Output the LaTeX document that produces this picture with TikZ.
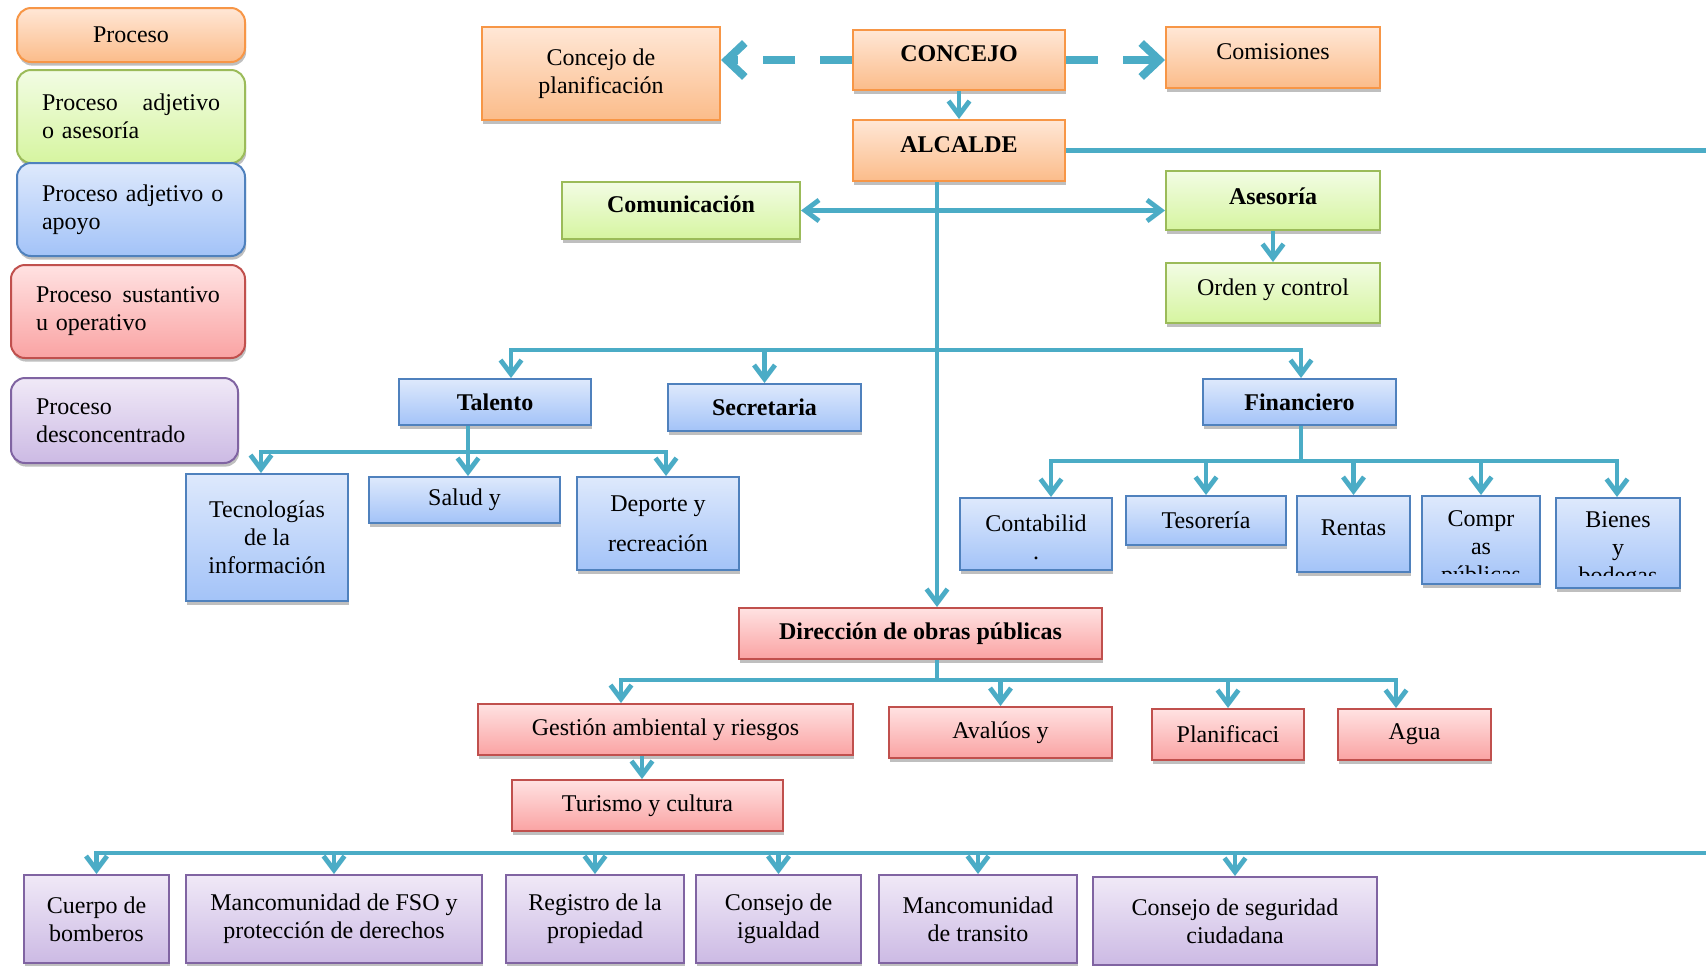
\documentclass[tikz,border=0pt]{standalone}
\usepackage{fontspec}
\setmainfont{Liberation Serif}
\usetikzlibrary{arrows.meta,shadows,calc}
\definecolor{lineC}{RGB}{75,172,198}
\definecolor{orD}{RGB}{247,150,70}\definecolor{orT}{RGB}{255,231,214}\definecolor{orB}{RGB}{251,188,138}
\definecolor{grD}{RGB}{155,187,89}\definecolor{grT}{RGB}{242,252,228}\definecolor{grB}{RGB}{214,245,160}
\definecolor{blD}{RGB}{79,129,189}\definecolor{blT}{RGB}{222,233,252}\definecolor{blB}{RGB}{163,195,248}
\definecolor{rdD}{RGB}{192,80,77}\definecolor{rdT}{RGB}{255,226,226}\definecolor{rdB}{RGB}{250,163,163}
\definecolor{puD}{RGB}{128,100,162}\definecolor{puT}{RGB}{240,233,247}\definecolor{puB}{RGB}{204,186,228}
\tikzset{
  fnt/.style={font=\fontsize{12}{14}\selectfont},
  bfnt/.style={font=\fontsize{12}{14}\selectfont\bfseries},
  base/.style={fnt, draw, line width=1pt, inner sep=2pt, align=center,
    drop shadow={shadow xshift=0.6pt, shadow yshift=-1.8pt, opacity=0.25, fill=black}},
  orbox/.style={base, draw=orD, top color=orT, bottom color=orB},
  grbox/.style={base, draw=grD, top color=grT, bottom color=grB},
  blbox/.style={base, draw=blD, top color=blT, bottom color=blB},
  rdbox/.style={base, draw=rdD, top color=rdT, bottom color=rdB},
  pubox/.style={base, draw=puD, top color=puT, bottom color=puB},
  leg/.style={rounded corners=7pt},
  up/.style={text depth=6pt},
  upsmall/.style={text depth=4pt},
  txt/.style={fnt, align=center, inner sep=0pt},
  >={Straight Barb[length=7pt,width=10.5pt]},
  conn/.style={draw=lineC, line width=2.4pt, line join=miter},
  arr/.style={conn, ->},
  dbl/.style={conn, <->},
  dsh/.style={draw=lineC, line width=4pt, dash pattern=on 16pt off 12.5pt,
    -{Straight Barb[length=9pt,width=17pt]}},
}
\begin{document}
\begin{tikzpicture}[x=0.5pt,y=-0.5pt]
\useasboundingbox (0,0) rectangle (1706,965);
\fill[white] (0,0) rectangle (1706,965);

% legend
\node[orbox, leg, minimum width=114pt, minimum height=27pt] (l1) at (131,35) {Proceso};
\node[grbox, leg, minimum width=114pt, minimum height=46.5pt, text width=89pt, align=left] (l2) at (131,116.5) {Proceso\hfill adjetivo\\o asesoría};
\node[blbox, leg, minimum width=114pt, minimum height=46.5pt, text width=89pt, align=left] (l3) at (131,209.5) {\mbox{Proceso adjetivo o}\\apoyo};
\node[rdbox, leg, minimum width=117pt, minimum height=46.5pt, text width=92pt, align=left] (l4) at (128,311.5) {Proceso\hfill sustantivo\\u operativo};
\node[pubox, leg, minimum width=113.5pt, minimum height=42.5pt, text width=88.5pt, align=left] (l5) at (124.5,420.5) {Proceso\\desconcentrado};

% top
\node[orbox, minimum width=119pt, minimum height=46.5pt] (plan) at (601,73.5) {Concejo de\\planificación};
\node[orbox, bfnt, up, minimum width=106pt, minimum height=30pt] (concejo) at (959,60) {CONCEJO};
\node[orbox, up, minimum width=107pt, minimum height=30.5pt] (comis) at (1273,57.5) {Comisiones};
\node[orbox, bfnt, up, minimum width=106pt, minimum height=30.5pt] (alcalde) at (959,150.5) {ALCALDE};
\node[grbox, bfnt, up, minimum width=119pt, minimum height=28.5pt] (comun) at (681,210.5) {Comunicación};
\node[grbox, bfnt, upsmall, minimum width=107pt, minimum height=29.5pt] (asesoria) at (1273,200.5) {Asesoría};
\node[grbox, up, minimum width=107pt, minimum height=30pt] (orden) at (1273,293) {Orden y control};

% blue level
\node[blbox, bfnt, minimum width=96pt, minimum height=23pt] (talento) at (495,402) {Talento};
\node[blbox, bfnt, minimum width=96.5pt, minimum height=23.5pt] (secretaria) at (764.5,407.5) {Secretaria};
\node[blbox, bfnt, minimum width=96.5pt, minimum height=23pt] (financiero) at (1299.5,402) {Financiero};
\node[blbox, minimum width=81pt, minimum height=63.5pt] (tec) at (267,537.5) {Tecnologías\\de la\\información};
\node[blbox, minimum width=95.5pt, minimum height=23pt] (salud) at (464.5,500) {Salud y};
\node[blbox, minimum width=81pt, minimum height=46.5pt] (deporte) at (658,523.5) {Deporte y\\[6pt]recreación};
\node[blbox, minimum width=76pt, minimum height=36pt] (cont) at (1036,534) {};
\node[txt, yshift=-1.5pt] (contT) at (cont) {Contabilid\\.};
\node[blbox, minimum width=80pt, minimum height=24.5pt] (teso) at (1206,520.5) {Tesorería};
\node[blbox, up, minimum width=56.5pt, minimum height=38pt] (rentas) at (1353.5,534) {Rentas};
\node[blbox, minimum width=59pt, minimum height=44pt] (compras) at (1481,540) {};
\begin{scope}
  \clip (compras.north west) rectangle ($(compras.north east)+(0,78)$);
  \node[txt, yshift=-4.5pt] (comprasT) at (compras) {Compr\\as\\públicas};
\end{scope}
\node[blbox, minimum width=62pt, minimum height=45pt] (bienes) at (1618,543) {};
\begin{scope}
  \clip (bienes.north west) rectangle ($(bienes.north east)+(0,78)$);
  \node[txt, yshift=-3.5pt] (bienesT) at (bienes) {Bienes\\y\\bodegas};
\end{scope}

% red level
\node[rdbox, bfnt, minimum width=181.5pt, minimum height=25.5pt] (direccion) at (920.5,633.5) {Dirección de obras públicas};
\node[rdbox, minimum width=187.5pt, minimum height=25.5pt] (gestion) at (665.5,729.5) {Gestión ambiental y riesgos};
\node[rdbox, minimum width=111.5pt, minimum height=25.5pt] (avaluos) at (1000.5,732.5) {Avalúos y};
\node[rdbox, minimum width=76pt, minimum height=25.5pt] (planif) at (1228,734.5) {Planificaci};
\node[rdbox, minimum width=76.5pt, minimum height=25.5pt] (agua) at (1414.5,734.5) {Agua};
\node[rdbox, minimum width=135.5pt, minimum height=25.5pt] (turismo) at (647.5,805.5) {Turismo y cultura};

% purple level
\node[pubox, minimum width=72.5pt, minimum height=44pt] (cuerpo) at (96.5,919) {Cuerpo de\\bomberos};
\node[pubox, minimum width=148pt, minimum height=44pt] (mfso) at (334,919) {Mancomunidad de FSO y\\protección de derechos};
\node[pubox, minimum width=89pt, minimum height=44pt] (registro) at (595,919) {Registro de la\\propiedad};
\node[pubox, minimum width=82.5pt, minimum height=44pt] (igualdad) at (778.5,919) {Consejo de\\igualdad};
\node[pubox, minimum width=99pt, minimum height=44pt] (transito) at (978,919) {Mancomunidad\\de transito};
\node[pubox, minimum width=142pt, minimum height=44pt] (seguridad) at (1235,921) {Consejo de seguridad\\ciudadana};

% connectors
\coordinate (tx) at (937,181);
\draw[arr] (tx |- alcalde.south) -- (tx |- direccion.north);
\draw[arr] (concejo.south) -- (alcalde.north);
\draw[dsh] (concejo.west) -- (concejo.west -| plan.east);
\draw[dsh] (concejo.east) -- (concejo.east -| comis.west);
\draw[dbl] (comun.east) -- (comun.east -| asesoria.west);
\draw[arr] (asesoria.south) -- (orden.north);

\coordinate (b1L) at (511,350); \coordinate (b1R) at (1301,350);
\draw[dbl] (b1L |- talento.north) -- (b1L) -- (b1R) -- (b1R |- financiero.north);
\draw[arr] (b1L -| secretaria.north) -- (secretaria.north);

\coordinate (b2) at (468,452); \coordinate (b2L) at (261,452); \coordinate (b2R) at (666,452);
\draw[conn] (talento.south -| b2) -- (b2);
\draw[dbl] (b2L |- tec.north) -- (b2L) -- (b2R) -- (b2R |- deporte.north);
\draw[arr] (b2) -- (b2 |- salud.north);

\coordinate (b3) at (1301,461); \coordinate (b3L) at (1051,461); \coordinate (b3R) at (1617,461);
\draw[conn] (financiero.south -| b3) -- (b3);
\draw[dbl] (b3L |- cont.north) -- (b3L) -- (b3R) -- (b3R |- bienes.north);
\foreach \n in {teso,rentas,compras} \draw[arr] (b3 -| \n.north) -- (\n.north);

\coordinate (b4) at (937,680); \coordinate (b4L) at (621,680); \coordinate (b4R) at (1396,680);
\draw[conn] (direccion.south -| b4) -- (b4);
\draw[dbl] (b4L |- gestion.north) -- (b4L) -- (b4R) -- (b4R |- agua.north);
\foreach \n in {avaluos,planif} \draw[arr] (b4 -| \n.north) -- (\n.north);
\coordinate (tu) at (642,760);
\draw[arr] (tu |- gestion.south) -- (tu |- turismo.north);

\coordinate (b5) at (1709,853);
\draw[arr] (alcalde.east) -| (b5) -- (b5 -| cuerpo.north) -- (cuerpo.north);
\foreach \n in {mfso,registro,igualdad,transito,seguridad} \draw[arr] (b5 -| \n.north) -- (\n.north);
\end{tikzpicture}
\end{document}
